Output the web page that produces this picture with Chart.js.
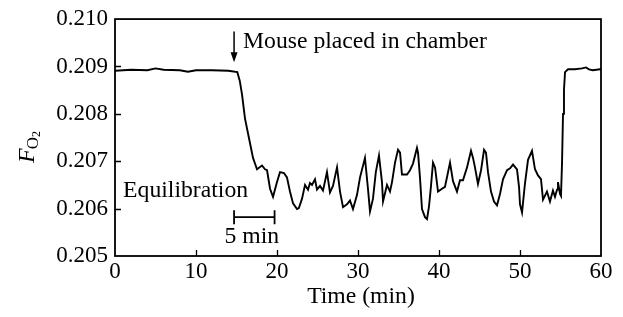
<!DOCTYPE html>
<html><head><meta charset="utf-8">
<script src="https://cdn.jsdelivr.net/npm/chart.js@4"></script>
<style>html,body{margin:0;padding:0;background:#fff}#wrap{width:623px;height:317px}</style>
</head><body><div id="wrap"><canvas id="c" width="623" height="317"></canvas></div>
<script>
const xTickValues = [0, 10, 20, 30, 40, 50, 60];
const yTickLabels = ['0.205', '0.206', '0.207', '0.208', '0.209', '0.210'];

const times = [
  0, 2, 4, 5, 6, 8, 9, 10, 12, 14,
  15.1, 15.4, 15.68, 16.05, 16.67, 17.04, 17.53, 18.15, 18.52, 18.77,
  19.14, 19.51, 20.0, 20.37, 20.86, 21.23, 21.6, 21.98, 22.47, 22.7,
  23.09, 23.46, 23.83, 24.07, 24.32, 24.69, 24.94, 25.31, 25.68, 26.17,
  26.54, 26.91, 27.41, 27.78, 28.15, 28.64, 29.01, 29.38, 29.88, 30.25,
  30.86, 31.23, 31.48, 31.85, 32.2, 32.59, 32.96, 33.09, 33.58, 33.95,
  34.2, 34.57, 34.94, 35.19, 35.43, 35.8, 36.05, 36.42, 36.79, 37.28,
  37.41, 37.65, 37.9, 38.27, 38.52, 38.77, 39.0, 39.26, 39.51, 39.88,
  40.37, 40.74, 41.36, 41.73, 42.22, 42.59, 42.96, 43.46, 43.95, 44.2,
  44.44, 44.81, 45.19, 45.56, 45.8, 46.05, 46.42, 46.79, 47.16, 47.53,
  47.9, 48.4, 48.77, 49.14, 49.63, 49.88, 50.0, 50.25, 50.62, 50.99,
  51.48, 51.85, 52.22, 52.59, 52.84, 53.33, 53.7, 54.07, 54.32, 54.57,
  54.69, 54.94, 55.06, 55.19, 55.31, 55.43, 55.56, 55.93, 56.79, 57.65,
  58.15, 58.52, 59.0, 59.88, 60
];
const fo2 = [
  0.20891, 0.20893, 0.20892, 0.20896, 0.20893, 0.20892, 0.20889, 0.20892, 0.20892, 0.20891,
  0.20888, 0.20870, 0.20841, 0.20790, 0.20738, 0.20707, 0.20683, 0.20691, 0.20683, 0.20681,
  0.20642, 0.20625, 0.20656, 0.20677, 0.20675, 0.20666, 0.20636, 0.20611, 0.20599, 0.20601,
  0.20621, 0.20650, 0.20640, 0.20654, 0.20650, 0.20662, 0.20640, 0.20648, 0.20638, 0.20677,
  0.20634, 0.20648, 0.20687, 0.20636, 0.20603, 0.20609, 0.20617, 0.20599, 0.20629, 0.20666,
  0.20707, 0.20642, 0.20594, 0.20621, 0.20677, 0.20712, 0.20656, 0.20615, 0.20650, 0.20636,
  0.20656, 0.20697, 0.20724, 0.20718, 0.20672, 0.20672, 0.20672, 0.20681, 0.20695, 0.20728,
  0.20718, 0.20666, 0.20599, 0.20582, 0.20578, 0.20605, 0.20646, 0.20697, 0.20687, 0.20636,
  0.20642, 0.20646, 0.20697, 0.20658, 0.20636, 0.20660, 0.20660, 0.20687, 0.20722, 0.20707,
  0.20687, 0.20652, 0.20681, 0.20724, 0.20718, 0.20677, 0.20636, 0.20615, 0.20607, 0.20631,
  0.20662, 0.20681, 0.20685, 0.20693, 0.20683, 0.20646, 0.20609, 0.20592, 0.20654, 0.20703,
  0.20722, 0.20683, 0.20670, 0.20662, 0.20619, 0.20636, 0.20615, 0.20638, 0.20625, 0.20640,
  0.20656, 0.20631, 0.20627, 0.20697, 0.20800, 0.20851, 0.20888, 0.20894, 0.20894, 0.20896,
  0.20898, 0.20894, 0.20892, 0.20894, 0.20894
];

const arrowAt = { x: 14.7, top: 0.20974, tip: 0.20909 };
const mouseLabel = { text: 'Mouse placed in chamber', x: 15.8, y: 0.20939 };
const equilLabel = { text: 'Equilibration', x: 1.0, y: 0.20625 };
const scaleBar = { x0: 14.7, x1: 19.7, y: 0.20582 };
const scaleLabel = { text: '5 min', x: 16.9, y: 0.20527 };

const SERIF = '"Liberation Serif", "Times New Roman", serif';

const decor = {
  id: 'decor',
  afterDatasetsDraw(chart) {
    const { ctx, chartArea: a, scales: { x, y } } = chart;
    ctx.save();
    ctx.strokeStyle = '#000';
    ctx.fillStyle = '#000';
    // frame
    ctx.lineWidth = 1.8;
    ctx.strokeRect(a.left, a.top, a.right - a.left, a.bottom - a.top);
    // inward ticks
    ctx.lineWidth = 1.3;
    ctx.beginPath();
    xTickValues.slice(1, -1).forEach(v => {
      const px = Math.round(x.getPixelForValue(v)) + 0.5;
      ctx.moveTo(px, a.bottom); ctx.lineTo(px, a.bottom - 6);
    });
    yTickLabels.slice(1, -1).forEach(t => {
      const py = Math.round(y.getPixelForValue(parseFloat(t))) + 0.5;
      ctx.moveTo(a.left, py); ctx.lineTo(a.left + 6, py);
    });
    ctx.stroke();
    // arrow
    const ax = x.getPixelForValue(arrowAt.x);
    const ay0 = y.getPixelForValue(arrowAt.top);
    const ay1 = y.getPixelForValue(arrowAt.tip);
    ctx.lineWidth = 1.5;
    ctx.beginPath(); ctx.moveTo(ax, ay0); ctx.lineTo(ax, ay1 - 6); ctx.stroke();
    ctx.beginPath(); ctx.moveTo(ax - 3.5, ay1 - 10); ctx.lineTo(ax + 3.5, ay1 - 10); ctx.lineTo(ax, ay1); ctx.closePath(); ctx.fill();
    // scale bar
    const sx0 = x.getPixelForValue(scaleBar.x0), sx1 = x.getPixelForValue(scaleBar.x1);
    const sy = y.getPixelForValue(scaleBar.y);
    ctx.lineWidth = 1.8;
    ctx.beginPath();
    ctx.moveTo(sx0, sy); ctx.lineTo(sx1, sy);
    ctx.moveTo(sx0, sy - 7); ctx.lineTo(sx0, sy + 7);
    ctx.moveTo(sx1, sy - 7); ctx.lineTo(sx1, sy + 7);
    ctx.stroke();
    // texts
    ctx.font = '23.7px ' + SERIF;
    ctx.textBaseline = 'alphabetic';
    ctx.textAlign = 'left';
    ctx.fillText(mouseLabel.text, x.getPixelForValue(mouseLabel.x), y.getPixelForValue(mouseLabel.y));
    ctx.fillText(equilLabel.text, x.getPixelForValue(equilLabel.x), y.getPixelForValue(equilLabel.y));
    ctx.textAlign = 'center';
    ctx.fillText(scaleLabel.text, x.getPixelForValue(scaleLabel.x), y.getPixelForValue(scaleLabel.y));
    // x title
    ctx.fillText('Time (min)', (a.left + a.right) / 2 + 3, a.bottom + 47);
    // y title: italic F with subscript O2
    ctx.save();
    ctx.translate(34, 163);
    ctx.rotate(-Math.PI / 2);
    ctx.textAlign = 'left';
    ctx.font = 'italic 24px ' + SERIF;
    ctx.fillText('F', 0, 0);
    const wF = ctx.measureText('F').width;
    ctx.font = '17px ' + SERIF;
    ctx.fillText('O', wF - 1, 4);
    const wO = ctx.measureText('O').width;
    ctx.font = '12px ' + SERIF;
    ctx.fillText('2', wF - 1 + wO, 6);
    ctx.restore();
    ctx.restore();
  }
};

new Chart(document.getElementById('c'), {
  type: 'line',
  data: {
    datasets: [{
      data: times.map((t, i) => ({ x: t, y: fo2[i] })),
      borderColor: '#000',
      borderWidth: 1.9,
      pointRadius: 0,
      tension: 0,
      fill: false
    }]
  },
  options: {
    responsive: false,
    animation: false,
    layout: { padding: { left: 0, top: 12, right: 22, bottom: 0 } },
    plugins: { legend: { display: false }, tooltip: { enabled: false } },
    scales: {
      x: {
        type: 'linear', min: 0, max: 60,
        afterFit(s) { s.height = 61; },
        afterBuildTicks(s) { s.ticks = xTickValues.map(v => ({ value: v })); },
        grid: { display: false, drawTicks: false },
        border: { display: false },
        ticks: { color: '#000', padding: 2, maxRotation: 0, font: { family: SERIF, size: 23, lineHeight: 1.2 } }
      },
      y: {
        type: 'linear', min: 0.205, max: 0.210,
        afterFit(s) { s.width = 115; },
        afterBuildTicks(s) { s.ticks = yTickLabels.map(t => ({ value: parseFloat(t) })); },
        grid: { display: false, drawTicks: false },
        border: { display: false },
        ticks: {
          color: '#000', padding: 7,
          font: { family: SERIF, size: 23, lineHeight: 1.05 },
          callback: (v) => yTickLabels.find(t => Math.abs(parseFloat(t) - v) < 1e-7) || ''
        }
      }
    }
  },
  plugins: [decor]
});
</script>
</body></html>
